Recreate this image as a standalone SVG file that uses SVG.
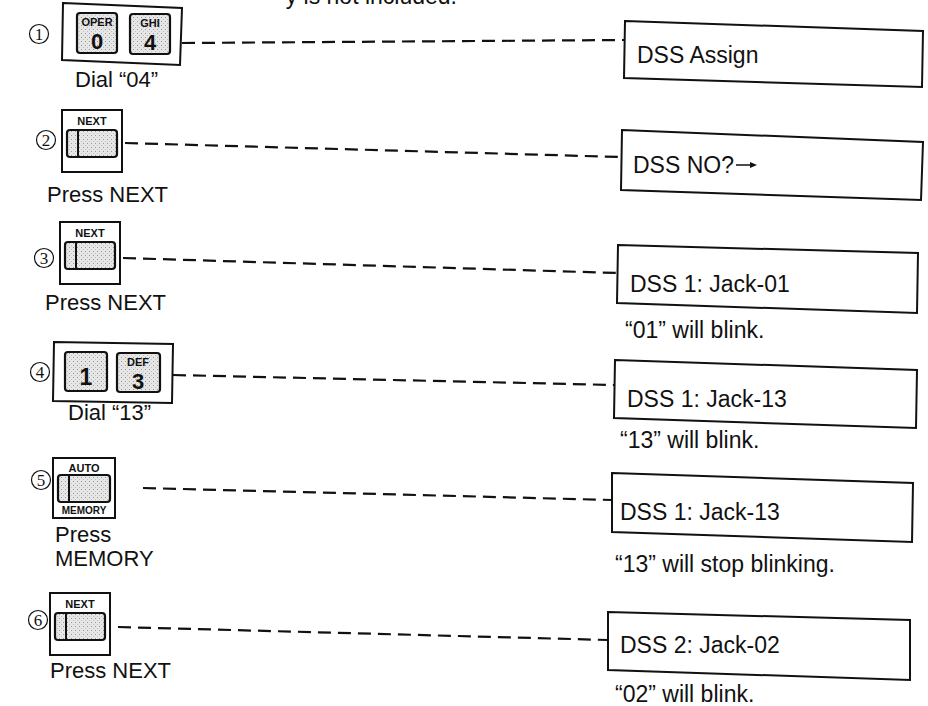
<svg xmlns="http://www.w3.org/2000/svg" xmlns:xlink="http://www.w3.org/1999/xlink" width="928" height="706" viewBox="0 0 928 706">
<defs>
<style>
.t{font-family:"Liberation Sans",Arial,Helvetica,sans-serif;font-size:22px;fill:#111}
.d{font-family:"Liberation Sans",Arial,Helvetica,sans-serif;font-size:23px;fill:#111}
.kl{font-family:"Liberation Sans",Arial,Helvetica,sans-serif;font-weight:bold;fill:#111}
.cn{font-family:"Liberation Serif","Times New Roman",serif;font-size:17px;fill:#111;text-anchor:middle}
.ring{fill:none;stroke:#111;stroke-width:1.2}
.frame{fill:#fff;stroke:#111;stroke-width:2}
.key{fill:url(#stip);stroke:#111;stroke-width:2.2}
.dash{fill:none;stroke:#111;stroke-width:2.2;stroke-dasharray:13 7}
</style>
<pattern id="stip" width="4" height="4" patternUnits="userSpaceOnUse">
<rect width="4" height="4" fill="#e6e6e6"/>
<rect x="1" y="1" width="1" height="1" fill="#9a9a9a"/>
<rect x="3" y="3" width="1" height="1" fill="#c0c0c0"/>
</pattern>
<g id="nextBtn">
<rect class="frame" x="0" y="0" width="60" height="62"/>
<text class="kl" x="30" y="15" font-size="11" text-anchor="middle">NEXT</text>
<rect class="key" x="5" y="20" width="50" height="27" rx="3"/>
<line x1="16" y1="20" x2="16" y2="47" stroke="#111" stroke-width="2"/>
</g>
</defs>

<text class="d" x="457" y="4" text-anchor="end">y is not included.</text>

<g id="connectors">
<line class="dash" x1="182" y1="43" x2="624" y2="40"/>
<line class="dash" x1="125" y1="143" x2="621" y2="157"/>
<line class="dash" x1="123" y1="258" x2="617" y2="273"/>
<line class="dash" x1="173" y1="375" x2="614" y2="385"/>
<line class="dash" x1="143" y1="488" x2="612" y2="500"/>
<line class="dash" x1="118" y1="627" x2="608" y2="640"/>
</g>

<g id="step1">
<circle class="ring" cx="39" cy="34" r="9.5"/>
<text class="cn" x="39" y="40">1</text>
<polygon class="frame" points="63,3 182,8 180,65 62,60"/>
<rect class="key" x="77" y="13" width="40" height="40" rx="3"/>
<text class="kl" x="97" y="26" font-size="11" text-anchor="middle">OPER</text>
<text class="kl" x="97" y="49" font-size="22" text-anchor="middle">0</text>
<rect class="key" x="130" y="14" width="40" height="40" rx="3"/>
<text class="kl" x="150" y="27" font-size="11" text-anchor="middle">GHI</text>
<text class="kl" x="150" y="50" font-size="22" text-anchor="middle">4</text>
<text class="t" x="75" y="87">Dial “04”</text>
</g>

<g id="step2">
<circle class="ring" cx="46" cy="140" r="9.5"/>
<text class="cn" x="46" y="146">2</text>
<use xlink:href="#nextBtn" x="62" y="110"/>
<text class="t" x="47" y="202">Press NEXT</text>
</g>

<g id="step3">
<circle class="ring" cx="44" cy="258" r="9.5"/>
<text class="cn" x="44" y="264">3</text>
<use xlink:href="#nextBtn" x="60" y="222"/>
<text class="t" x="45" y="310">Press NEXT</text>
</g>

<g id="step4">
<circle class="ring" cx="40" cy="372" r="9.5"/>
<text class="cn" x="40" y="378">4</text>
<polygon class="frame" points="54,342 173,344 172,403 53,401"/>
<rect class="key" x="65" y="352" width="42" height="39" rx="3"/>
<text class="kl" x="86" y="385" font-size="23" text-anchor="middle">1</text>
<rect class="key" x="117" y="353" width="43" height="39" rx="3"/>
<text class="kl" x="138" y="366" font-size="11" text-anchor="middle">DEF</text>
<text class="kl" x="138" y="389" font-size="22" text-anchor="middle">3</text>
<text class="t" x="68" y="420">Dial “13”</text>
</g>

<g id="step5">
<circle class="ring" cx="41" cy="480" r="9.5"/>
<text class="cn" x="41" y="486">5</text>
<rect class="frame" x="53" y="458" width="62" height="60"/>
<text class="kl" x="84" y="472" font-size="11" text-anchor="middle">AUTO</text>
<rect class="key" x="58" y="475" width="52" height="27" rx="3"/>
<line x1="69" y1="475" x2="69" y2="502" stroke="#111" stroke-width="2"/>
<text class="kl" x="84" y="514" font-size="10" text-anchor="middle">MEMORY</text>
<text class="t" x="55" y="542">Press</text>
<text class="t" x="55" y="566">MEMORY</text>
</g>

<g id="step6">
<circle class="ring" cx="38" cy="620" r="9.5"/>
<text class="cn" x="38" y="626">6</text>
<use xlink:href="#nextBtn" x="50" y="593"/>
<text class="t" x="50" y="678">Press NEXT</text>
</g>

<g id="disp1">
<polygon class="frame" points="625,21 923,31 922,87 624,78"/>
<text class="d" x="637" y="63">DSS Assign</text>
</g>
<g id="disp2">
<polygon class="frame" points="622,130 923,142 921,200 621,190"/>
<text class="d" x="633" y="173">DSS NO?</text>
<line x1="736" y1="165" x2="750" y2="165" stroke="#111" stroke-width="1.5"/>
<polygon points="750,162 757,165 750,168" fill="#111"/>
</g>
<g id="disp3">
<polygon class="frame" points="618,245 918,253 917,313 617,303"/>
<text class="d" x="630" y="292">DSS 1: Jack-01</text>
<text class="d" x="625" y="338">“01” will blink.</text>
</g>
<g id="disp4">
<polygon class="frame" points="615,360 917,370 916,428 614,418"/>
<text class="d" x="627" y="407">DSS 1: Jack-13</text>
<text class="d" x="620" y="448">“13” will blink.</text>
</g>
<g id="disp5">
<polygon class="frame" points="612,473 913,483 912,542 612,532"/>
<text class="d" x="620" y="520">DSS 1: Jack-13</text>
<text class="d" x="615" y="572">“13” will stop blinking.</text>
</g>
<g id="disp6">
<polygon class="frame" points="608,612 910,620 910,680 608,670"/>
<text class="d" x="620" y="653">DSS 2: Jack-02</text>
<text class="d" x="615" y="702">“02” will blink.</text>
</g>
</svg>
